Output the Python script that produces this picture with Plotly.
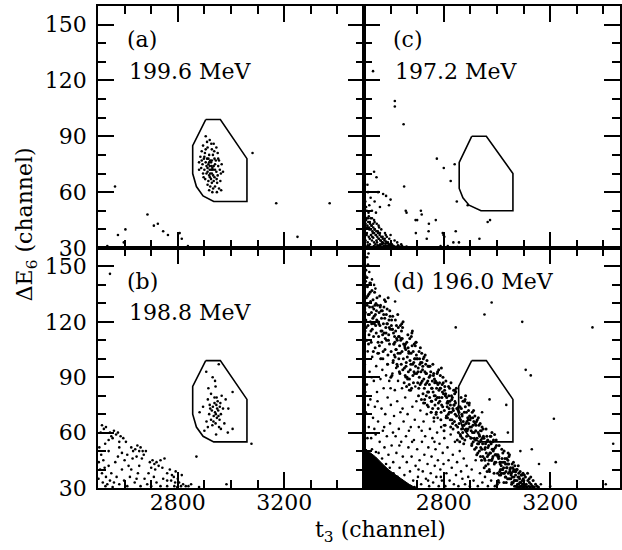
import plotly.graph_objects as go

FONT = "DejaVu Serif"
FS = 22

# ---------------- data ----------------
# gate polygons (t3, dE6)
gate_abd_x = [2905, 2960, 3060, 3060, 2935, 2895, 2870, 2856, 2856, 2905]
gate_abd_y = [99, 99, 78, 55, 55, 58, 63, 70, 85, 99]
gate_c_x = [2905, 2960, 3060, 3060, 2940, 2895, 2872, 2858, 2858, 2905]
gate_c_y = [90, 90, 70, 50, 50, 53, 57, 62, 76, 90]

# panel (a) 199.6 MeV
a_x = [2905, 2920, 2935, 2895, 2912, 2928, 2945, 2890, 2902, 2918, 2932, 2950, 2885, 2898, 2910,
       2922, 2938, 2955, 2880, 2893, 2905, 2915, 2927, 2940, 2952, 2965, 2888, 2900, 2912, 2920,
       2932, 2945, 2958, 2895, 2908, 2918, 2928, 2938, 2950, 2962, 2903, 2915, 2925, 2935, 2948,
       2912, 2922, 2940, 2955, 2918, 2930, 2963, 2915, 2920, 2925, 2930, 2922, 2928, 2935, 2912,
       2940, 2918, 2926, 2933, 2908, 2943, 2921, 2928, 2900, 2946, 2890, 2960, 2937, 2910, 2926,
       2897, 2952, 2880, 2970, 2947, 2933, 2905,
       2564, 2686, 2710, 2725, 2745, 2763, 2807, 2815, 2838, 2575, 2597, 2603, 3081, 3170, 3250,
       3371, 2535]
a_y = [90, 88, 86, 85, 84, 83, 84, 82, 81, 80, 80, 81, 79, 78, 78,
       77, 78, 77, 76, 75, 76, 75, 74, 75, 74, 75, 73, 72, 73, 72,
       72, 71, 72, 70, 70, 69, 70, 68, 69, 70, 67, 66, 67, 66, 65,
       64, 63, 63, 62, 61, 60, 61, 78, 74, 76, 73, 70, 77, 74, 71,
       72, 76, 72, 69, 74, 77, 68, 65, 79, 67, 77, 66, 82, 87, 86,
       68, 78, 72, 71, 60, 62, 83,
       63, 48, 42, 43, 39, 37, 38, 35, 31, 37, 33, 40, 81, 54, 36,
       54, 31]

# panel (b) 198.8 MeV
b_x = [2907, 2931, 2954, 2942, 2965, 3006, 2913, 2882, 2900, 2913, 2944, 2988, 3006, 2925, 2938,
       2950, 2920, 2932, 2945, 2958, 2928, 2940, 2952, 2962, 2935, 2947, 2957, 2925, 2942, 2930,
       2955, 2918, 2970, 2948, 2943, 2938, 2953, 2960, 2922, 2975, 2990, 2908, 2915, 2946, 2934,
       2962, 2895, 2980, 2940,
       2515, 2522, 2530, 2510, 2545, 2550, 2560, 2568, 2575, 2585, 2580, 2555, 2540, 2595, 2605,
       2625, 2632, 2640, 2648, 2655, 2660, 2668, 2672, 2645, 2630, 2680, 2665,
       2695, 2705, 2712, 2720, 2728, 2735, 2742, 2715, 2750, 2700,
       2760, 2770, 2778, 2785, 2792, 2800, 2805, 2790, 2812, 2820, 2830, 2798, 2775,
       2505, 2512, 2503, 2520, 2508, 2515, 2525, 2530, 2502, 2518, 2535, 2528, 2545, 2550, 2560,
       2555, 2570, 2580, 2590, 2598, 2610, 2620, 2615, 2638, 2650, 2660, 2675, 2685, 2690, 2655,
       2600, 2575, 2540, 2565, 2720, 2735, 2745, 2710, 2700, 2760, 2540, 2590, 2527, 2580, 2625,
       2645, 2610, 2760, 2787, 2815,
       2545, 2870, 2983, 2880, 3077, 2840, 2850]
b_y = [93, 90, 97, 85, 80, 82, 78, 71, 61, 63, 59, 60, 62, 81, 79,
       77, 75, 74, 75, 74, 72, 71, 72, 70, 69, 68, 67, 67, 65, 64,
       63, 70, 73, 73, 70, 76, 69, 76, 73, 65, 73, 66, 84, 79, 66,
       62, 74, 78, 88,
       64, 62, 63, 60, 60, 58, 61, 59, 60, 58, 55, 57, 56, 57, 55,
       52, 50, 51, 53, 50, 52, 50, 48, 47, 46, 50, 46,
       44, 45, 43, 44, 42, 45, 41, 40, 46, 41,
       38, 40, 37, 36, 39, 35, 33, 33, 31, 32, 31, 30.5, 34,
       52, 48, 44, 45, 40, 38, 41, 36, 35, 33, 32, 31, 34, 38, 33,
       30.5, 36, 32, 40, 34, 31, 36, 42, 33, 38, 31, 35, 32, 38, 42,
       45, 47, 50, 44, 33, 31, 35, 36, 31, 31, 42, 49, 54, 52, 40,
       35, 48, 34, 31, 37,
       146, 47, 32, 30.5, 54, 31, 32]

# panel (c) 197.2 MeV
c_x = [2538, 2513, 2547, 2515, 2553, 2572, 2583, 2600, 2594, 2505, 2525, 2540, 2510, 2530, 2545,
       2560, 2520,
       2503, 2508, 2515, 2522, 2505, 2512, 2520, 2528, 2535, 2540, 2503, 2510, 2518, 2526, 2533,
       2545, 2552, 2560, 2506, 2514, 2522, 2530, 2538, 2547, 2555, 2563, 2570, 2578, 2503, 2511,
       2519, 2528, 2537, 2545, 2552, 2560, 2568, 2575, 2583, 2590, 2598, 2605, 2612, 2620, 2628,
       2635, 2643, 2650, 2660, 2587, 2573, 2595, 2582, 2565, 2548, 2530, 2517, 2500, 2508, 2538,
       2555, 2570, 2615, 2625, 2640, 2600, 2605, 2590,
       2502, 2506, 2509, 2513, 2516, 2519, 2523, 2526, 2529, 2532, 2535, 2538, 2541, 2544, 2547,
       2550, 2553, 2556, 2559, 2562, 2565, 2568, 2571, 2574, 2577, 2580, 2583, 2586, 2589, 2592,
       2595, 2598, 2601, 2604, 2608, 2612, 2504, 2511, 2518, 2525, 2531, 2540, 2549, 2557, 2566,
       2579, 2500, 2500, 2503, 2514, 2522, 2535, 2543, 2561, 2586,
       2534, 2616, 2616, 2649, 2774, 2800, 2841, 2826, 2849, 2890, 2651, 2657, 2660, 2714, 2717,
       2694, 2700, 2744, 2770, 2743, 2695, 2736, 2796, 2799, 2802, 2845, 2836, 2857, 2934, 2965,
       2974, 2815, 2788, 2851]
c_y = [71, 64, 68, 60, 60, 59, 58, 56, 53, 55, 57, 55, 50, 50, 49,
       52, 53,
       47, 45, 46, 44, 42, 41, 40, 42, 43, 40, 38, 37, 36, 37, 38,
       37, 39, 38, 34, 33, 32, 34, 33, 34, 35, 34, 36, 35, 31, 30.5,
       31, 30.5, 31, 30.8, 31.5, 31, 32, 31, 32.5, 33, 31, 32, 31, 30.6, 31.5,
       30.8, 31, 30.5, 30.8, 30.5, 30.6, 35, 37, 40, 43, 46, 49, 50, 52, 45,
       42, 33, 34, 33, 32, 37, 30.5, 31,
       45, 43, 46, 42, 44, 41, 43, 40, 42, 39, 41, 38, 40, 37, 39,
       36, 38, 35, 37, 34, 36, 33, 35, 32.5, 34, 31.5, 33.5, 31, 32.5, 30.8,
       32, 30.6, 31.5, 30.7, 31.2, 30.5, 40, 38, 47, 46, 36, 44, 33, 41, 30.8,
       38, 42, 36, 33, 31.5, 35, 35.5, 32, 32, 36,
       125, 109, 106, 96.5, 78, 73, 75, 66, 55, 53, 63, 50, 49, 50, 48,
       45, 45, 43, 45, 39, 38, 35, 38, 37, 36, 39, 33, 33, 35, 44,
       45, 31, 31, 30.5]

# panel (d) 196.0 MeV : dense band
d_band_x = [
    2501, 2503, 2504, 2506, 2507, 2509, 2510, 2512, 2513, 2515, 2516, 2518, 2519, 2521, 2522, 2524, 2525,
    2527, 2528, 2530, 2531, 2533, 2534, 2536, 2537, 2539, 2540, 2542, 2543, 2545, 2546, 2548, 2549, 2502,
    2508, 2514, 2520, 2526, 2532, 2538, 2544, 2547, 2505, 2511, 2517, 2523, 2529, 2535, 2541,
    2575, 2576, 2578, 2579, 2581, 2582, 2584, 2585, 2587, 2588, 2590, 2591, 2593, 2594, 2596, 2597, 2599,
    2551, 2552, 2554, 2555, 2557, 2558, 2560, 2561, 2563, 2564, 2566, 2567, 2569, 2570, 2572, 2573, 2556,
    2562, 2568, 2574, 2580, 2586, 2592, 2595, 2598, 2553, 2559, 2565, 2571, 2577, 2583, 2589,
    2642, 2636, 2630, 2624, 2618, 2612, 2606, 2648, 2645, 2639, 2633, 2627, 2621, 2615, 2609, 2603, 2649,
    2647, 2646, 2644, 2643, 2641, 2640, 2638, 2637, 2635, 2634, 2632, 2631, 2629, 2628, 2626, 2625, 2623,
    2622, 2620, 2619, 2617, 2616, 2614, 2613, 2611, 2610, 2608, 2607, 2605, 2604, 2602, 2601,
    2689, 2683, 2677, 2671, 2665, 2659, 2653, 2698, 2695, 2692, 2686, 2680, 2674, 2668, 2662, 2656, 2673,
    2672, 2670, 2669, 2667, 2666, 2664, 2663, 2661, 2660, 2658, 2657, 2655, 2654, 2652, 2651, 2699, 2697,
    2696, 2694, 2693, 2691, 2690, 2688, 2687, 2685, 2684, 2682, 2681, 2679, 2678, 2676, 2675,
    2701, 2702, 2704, 2705, 2707, 2708, 2710, 2711, 2713, 2714, 2716, 2717, 2719, 2720, 2722, 2723, 2725,
    2726, 2728, 2729, 2731, 2732, 2734, 2735, 2737, 2738, 2740, 2741, 2743, 2744, 2746, 2747, 2749, 2703,
    2709, 2715, 2721, 2727, 2733, 2739, 2745, 2748, 2706, 2712, 2718, 2724, 2730, 2736, 2742,
    2775, 2776, 2778, 2779, 2781, 2782, 2784, 2785, 2787, 2788, 2790, 2791, 2793, 2794, 2796, 2797, 2799,
    2751, 2752, 2754, 2755, 2757, 2758, 2760, 2761, 2763, 2764, 2766, 2767, 2769, 2770, 2772, 2773, 2756,
    2762, 2768, 2774, 2780, 2786, 2792, 2795, 2798, 2753, 2759, 2765, 2771, 2777, 2783, 2789,
    2842, 2836, 2830, 2824, 2818, 2812, 2806, 2848, 2845, 2839, 2833, 2827, 2821, 2815, 2809, 2803, 2849,
    2847, 2846, 2844, 2843, 2841, 2840, 2838, 2837, 2835, 2834, 2832, 2831, 2829, 2828, 2826, 2825, 2823,
    2822, 2820, 2819, 2817, 2816, 2814, 2813, 2811, 2810, 2808, 2807, 2805, 2804, 2802, 2801,
    2889, 2883, 2877, 2871, 2865, 2859, 2853, 2898, 2895, 2892, 2886, 2880, 2874, 2868, 2862, 2856, 2873,
    2872, 2870, 2869, 2867, 2866, 2864, 2863, 2861, 2860, 2858, 2857, 2855, 2854, 2852, 2851, 2899, 2897,
    2896, 2894, 2893, 2891, 2890, 2888, 2887, 2885, 2884, 2882, 2881, 2879, 2878, 2876, 2875,
    2901, 2902, 2904, 2905, 2907, 2908, 2910, 2911, 2913, 2914, 2916, 2917, 2919, 2920, 2922, 2923, 2925,
    2926, 2928, 2929, 2931, 2932, 2934, 2935, 2937, 2938, 2940, 2941, 2943, 2944, 2946, 2947, 2949, 2903,
    2909, 2915, 2921, 2927, 2933, 2939, 2945, 2948, 2906, 2912, 2918, 2924, 2930, 2936, 2942,
    2975, 2976, 2978, 2979, 2981, 2982, 2984, 2985, 2987, 2988, 2990, 2991, 2993, 2994, 2996, 2997, 2999,
    2951, 2952, 2954, 2955, 2957, 2958, 2960, 2961, 2963, 2964, 2966, 2967, 2969, 2970, 2972, 2973, 2956,
    2962, 2968, 2974, 2980, 2986, 2992, 2995, 2998, 2953, 2959, 2965, 2971, 2977, 2983, 2989,
    3042, 3036, 3030, 3024, 3018, 3012, 3006, 3048, 3045, 3039, 3033, 3027, 3021, 3015, 3009, 3003, 3049,
    3047, 3046, 3044, 3043, 3041, 3040, 3038, 3037, 3035, 3034, 3032, 3031, 3029, 3028, 3026, 3025, 3023,
    3022, 3020, 3019, 3017, 3016, 3014, 3013, 3011, 3010, 3008, 3007, 3005, 3004, 3002, 3001,
    3051, 3052, 3054, 3055, 3057, 3058, 3060, 3061, 3063, 3064, 3066, 3067, 3069, 3070, 3072, 3073, 3075,
    3076, 3078, 3079, 3081, 3082, 3084, 3085, 3087, 3088, 3090, 3091, 3093, 3094, 3096, 3097, 3099, 3053,
    3059, 3065, 3071, 3077, 3083, 3089, 3095, 3098, 3056, 3062, 3068, 3074, 3080, 3086,
    3101, 3104, 3107, 3110, 3113, 3116, 3119, 3122, 3125, 3128, 3132, 3136, 3140, 3145, 3150, 3156,
    3103, 3109, 3115, 3121, 3127, 3134]
d_band_y = [
    138, 127, 115, 142, 121, 133, 110, 129, 139, 118, 124, 135, 113, 128, 141, 120, 131,
    109, 125, 137, 116, 122, 132, 112, 127, 119, 136, 106, 124, 130, 114, 121, 133, 131,
    117, 134, 124, 115, 128, 123, 118, 126, 125, 144, 108, 136, 119, 104, 129,
    128, 114, 122, 105, 131, 117, 124, 110, 127, 119, 102, 133, 113, 121, 108, 126, 116,
    129, 103, 120, 112, 125, 107, 118, 128, 100, 115, 122, 109, 126, 113, 104, 119, 119,
    129, 115, 124, 111, 119, 110, 117, 123, 109, 134, 126, 100, 132, 114, 97,
    119, 103, 112, 97, 121, 108, 116, 100, 117, 111, 93, 124, 105, 112, 98, 118, 108,
    120, 94, 111, 104, 115, 97, 110, 118, 92, 107, 112, 100, 117, 103, 96, 110, 111,
    118, 105, 115, 101, 109, 102, 108, 114, 99, 123, 116, 91, 121, 104, 90,
    108, 97, 103, 89, 113, 98, 107, 92, 109, 100, 87, 114, 94, 104, 90, 108, 99,
    111, 86, 103, 93, 106, 89, 101, 109, 85, 96, 105, 91, 106, 95, 87, 100, 102,
    109, 96, 107, 92, 100, 93, 98, 104, 91, 115, 107, 84, 112, 97, 83,
    100, 87, 95, 80, 104, 90, 97, 86, 98, 93, 78, 103, 88, 94, 81, 100, 89,
    101, 78, 93, 86, 97, 80, 92, 99, 75, 88, 96, 82, 96, 86, 79, 91, 93,
    100, 87, 96, 84, 92, 82, 90, 96, 84, 106, 98, 76, 102, 87, 74,
    92, 79, 86, 73, 94, 83, 87, 77, 91, 84, 71, 95, 79, 86, 74, 90, 81,
    93, 71, 84, 77, 88, 73, 82, 91, 68, 80, 87, 75, 88, 78, 71, 84, 84,
    92, 80, 87, 76, 84, 75, 82, 87, 77, 97, 89, 70, 93, 79, 67,
    83, 72, 78, 67, 85, 76, 80, 69, 82, 75, 65, 87, 71, 77, 68, 83, 73,
    84, 64, 76, 70, 81, 66, 75, 83, 62, 73, 79, 67, 80, 71, 63, 75, 77,
    84, 73, 80, 70, 76, 68, 74, 79, 69, 88, 81, 64, 85, 72, 61,
    76, 65, 71, 60, 79, 68, 73, 63, 75, 67, 58, 78, 64, 70, 59, 74, 66,
    77, 57, 69, 62, 73, 58, 67, 74, 55, 65, 71, 60, 72, 63, 56, 67, 69,
    76, 65, 72, 62, 68, 61, 66, 71, 62, 80, 74, 56, 77, 64, 54,
    68, 57, 63, 53, 71, 60, 64, 55, 66, 60, 51, 69, 56, 61, 52, 66, 57,
    67, 49, 60, 54, 64, 50, 58, 65, 47, 56, 61, 51, 63, 54, 47, 58, 61,
    68, 57, 64, 54, 59, 52, 57, 62, 54, 72, 65, 48, 68, 55, 45,
    58, 49, 54, 45, 60, 51, 55, 47, 56, 51, 43, 59, 48, 52, 44, 56, 48,
    57, 41, 51, 45, 54, 42, 49, 55, 39, 47, 52, 43, 53, 45, 39, 49, 52,
    58, 48, 55, 45, 50, 44, 48, 53, 46, 62, 56, 40, 58, 46, 38,
    49, 41, 46, 38, 51, 43, 46, 39, 47, 43, 36, 50, 40, 44, 37, 47, 40,
    48, 35, 43, 38, 45, 35, 41, 46, 33, 39, 43, 36, 44, 38, 33, 41, 44,
    49, 40, 46, 38, 42, 37, 40, 44, 39, 53, 47, 34, 48, 38, 32,
    41, 35, 38, 32, 43, 36, 39, 33, 40, 36, 31, 42, 34, 37, 31, 40, 34,
    40, 30.5, 36, 32, 38, 30.5, 35, 39, 31, 33, 37, 31, 37, 32, 30.5, 35, 37,
    41, 34, 39, 32, 36, 31, 34, 38, 33, 44, 39, 31, 42, 33,
    34, 31, 36, 32, 30.5, 34, 31, 33, 30.5, 32, 31, 34, 30.5, 32, 31, 30.5,
    37, 30.8, 38, 35, 36, 30.8]

# panel (d): sparse speckle below / around the band and outliers
d_sp_x = [2503, 2507, 2511, 2514, 2518, 2521, 2524, 2527, 2531, 2534, 2537, 2541, 2544, 2546, 2549,
          2553, 2556, 2559, 2562, 2566, 2569, 2571, 2574, 2577, 2580, 2583, 2586, 2589, 2592, 2595,
          2598, 2601, 2604, 2607, 2610, 2613, 2616, 2619, 2622, 2625, 2628, 2631, 2634, 2637, 2640,
          2643, 2646, 2649, 2652, 2655, 2658, 2661, 2664, 2667, 2670, 2673, 2676, 2679, 2682, 2685,
          2688, 2691, 2694, 2697, 2700, 2703, 2706, 2709, 2712, 2715, 2718, 2721, 2724, 2727, 2730,
          2733, 2736, 2739, 2742, 2745, 2748, 2751, 2754, 2757, 2760, 2763, 2766, 2769, 2772, 2775,
          2778, 2781, 2784, 2787, 2790, 2793, 2796, 2799, 2802, 2806, 2810, 2814, 2818, 2822, 2826,
          2830, 2834, 2838, 2842, 2846, 2850, 2855, 2860, 2865, 2870, 2875, 2880, 2886, 2892, 2898,
          2905, 2912, 2920, 2928, 2936, 2945, 2955, 2966, 2978, 2992, 3008,
          2505, 2509, 2513, 2516, 2529, 2539, 2551, 2564, 2576, 2588, 2600, 2609, 2621, 2633, 2645,
          2657, 2669, 2681, 2693, 2705, 2717, 2729, 2741, 2753, 2765, 2777, 2789, 2801,
          2502, 2508, 2515, 2505, 2520, 2512, 2530, 2525, 2538, 2517, 2543,
          2555, 2568, 2583, 2597, 2611, 2626, 2642, 2658, 2674, 2690, 2530, 2545,
          2617, 2845, 2953, 2980, 3095, 3359, 3108, 3127, 2972, 3035, 2944, 3214, 3041, 3088, 3131,
          3158, 3221, 3437, 3409, 3165, 2842, 2937, 3200]
d_sp_y = [97, 71, 86, 104, 63, 93, 78, 57, 101, 68, 88, 74, 59, 96, 82,
          66, 103, 55, 89, 73, 94, 61, 84, 52, 70, 91, 58, 79, 48, 88,
          65, 75, 53, 92, 44, 69, 83, 58, 49, 77, 88, 62, 41, 71, 55,
          84, 47, 66, 37, 79, 58, 44, 70, 52, 83, 39, 63, 47, 74, 34,
          56, 67, 42, 77, 51, 36, 63, 45, 72, 32, 55, 39, 66, 48, 58,
          35, 70, 43, 52, 31, 62, 38, 47, 57, 33, 66, 42, 51, 36, 60,
          45, 31, 54, 40, 63, 34, 49, 43, 57, 31, 38, 52, 45, 34, 59,
          41, 48, 32, 55, 37, 44, 31, 50, 39, 35, 46, 32, 42, 36, 31,
          40, 34, 45, 31, 38, 33, 36, 31, 34, 31, 33,
          82, 110, 57, 75, 90, 62, 77, 100, 63, 97, 84, 60, 95, 53, 73,
          90, 61, 55, 85, 40, 61, 76, 34, 71, 55, 68, 36, 64,
          152, 148, 151, 145, 147, 155, 143, 141, 140, 157, 138,
          49, 46, 43, 41, 38, 36, 34, 32, 31, 30.5, 51, 49.5,
          131, 117, 124, 130.5, 120, 117, 94, 91, 78, 75, 71, 67.5, 60, 50, 51,
          43, 44, 54, 32, 32, 77, 61, 31]

# panel (d): saturated low-energy region (solid black) outline
d_blob_x = [2500, 2500, 2520, 2544, 2570, 2594, 2620, 2645, 2670, 2695, 2500]
d_blob_y = [30, 52, 49.5, 46.8, 43, 39.7, 37, 34.3, 32, 30, 30]

panel_labels = ["(a)", "(c)", "(b)", "(d) 196.0 MeV"]
energy_labels = ["199.6 MeV", "197.2 MeV", "198.8 MeV", ""]
x_ticks = [2800, 3200]
y_ticks = [30, 60, 90, 120, 150]

# ---------------- figure ----------------
fig = go.Figure()

def pts(xs, ys, xa, ya, size=2.6):
    fig.add_trace(go.Scatter(x=xs, y=ys, mode="markers", xaxis=xa, yaxis=ya,
                             marker=dict(size=size, color="black", line=dict(width=0)),
                             hoverinfo="skip", showlegend=False))

def gate(xs, ys, xa, ya):
    fig.add_trace(go.Scatter(x=xs, y=ys, mode="lines", xaxis=xa, yaxis=ya,
                             line=dict(color="black", width=1.6),
                             hoverinfo="skip", showlegend=False))

# a: x/y, c: x2/y2, b: x3/y3, d: x4/y4
pts(a_x, a_y, "x", "y")
gate(gate_abd_x, gate_abd_y, "x", "y")
pts(c_x, c_y, "x2", "y2")
gate(gate_c_x, gate_c_y, "x2", "y2")
pts(b_x, b_y, "x3", "y3")
gate(gate_abd_x, gate_abd_y, "x3", "y3")
fig.add_trace(go.Scatter(x=d_blob_x, y=d_blob_y, mode="lines", fill="toself",
                         fillcolor="black", line=dict(color="black", width=1),
                         xaxis="x4", yaxis="y4", hoverinfo="skip", showlegend=False))
pts(d_band_x, d_band_y, "x4", "y4", size=3)
pts(d_sp_x, d_sp_y, "x4", "y4", size=2.6)
gate(gate_abd_x, gate_abd_y, "x4", "y4")

XS = 267 / 524
YS = 240 / 482
tickfont = dict(family=FONT, size=FS, color="black")
LW = 1.5

def xax(domain, rng, anchor, labels):
    return dict(domain=domain, range=rng, anchor=anchor, showline=True, linecolor="black",
                linewidth=LW, mirror="ticks", ticks="inside", ticklen=16, tickwidth=1.5,
                tickcolor="black", tickvals=x_ticks, showticklabels=labels,
                ticklabelstandoff=-6,
                minor=dict(ticks="inside", ticklen=8, tickwidth=1.5, tickcolor="black",
                           dtick=100, tick0=2500, showgrid=False),
                showgrid=False, zeroline=False, tickfont=tickfont, fixedrange=True)

def yax(domain, anchor, labels):
    return dict(domain=domain, range=[30, 160], anchor=anchor, showline=True, linecolor="black",
                linewidth=LW, mirror="ticks", ticks="inside", ticklen=16, tickwidth=1.5,
                tickcolor="black", tickvals=y_ticks, showticklabels=labels,
                ticklabelstandoff=5,
                minor=dict(ticks="inside", ticklen=8, tickwidth=1.5, tickcolor="black",
                           dtick=10, tick0=0, showgrid=False),
                showgrid=False, zeroline=False, tickfont=tickfont, fixedrange=True)

right_max = 2500 + (622 - 365) / 0.267

fig.update_layout(
    width=622, height=550, autosize=False,
    margin=dict(l=98, r=0, t=6, b=62, pad=0),
    paper_bgcolor="white", plot_bgcolor="white",
    font=dict(family=FONT, color="black"),
    xaxis=xax([0, XS], [2500, 3500], "y", False),
    yaxis=yax([YS, 1], "x", True),
    xaxis2=xax([XS, 1], [2500, right_max], "y2", False),
    yaxis2=yax([YS, 1], "x2", False),
    xaxis3=xax([0, XS], [2500, 3500], "y3", True),
    yaxis3=yax([0, YS], "x3", True),
    xaxis4=xax([XS, 1], [2500, right_max], "y4", True),
    yaxis4=yax([0, YS], "x4", False),
)

ann = []
pos = [("x", "y"), ("x2", "y2"), ("x3", "y3"), ("x4", "y4")]
for (xr, yr), pl, el in zip(pos, panel_labels, energy_labels):
    ann.append(dict(x=2601, y=142, xref=xr, yref=yr, text=pl, showarrow=False,
                    xanchor="left", yanchor="middle", font=dict(family=FONT, size=FS, color="black")))
    if el:
        ann.append(dict(x=2610, y=125, xref=xr, yref=yr, text=el, showarrow=False,
                        xanchor="left", yanchor="middle", font=dict(family=FONT, size=FS, color="black")))

ann.append(dict(x=(382 - 98) / 524, y=(488 - 531) / 482, xref="paper", yref="paper",
                text="t<sub>3</sub> (channel)", showarrow=False, xanchor="center", yanchor="middle",
                font=dict(family=FONT, size=FS, color="black")))
ann.append(dict(x=(27 - 98) / 524, y=(488 - 224) / 482, xref="paper", yref="paper",
                text="ΔE<sub>6</sub> (channel)", showarrow=False, textangle=-90,
                xanchor="center", yanchor="middle",
                font=dict(family=FONT, size=FS, color="black")))
fig.update_layout(annotations=ann)

fig.write_html("out.html")
